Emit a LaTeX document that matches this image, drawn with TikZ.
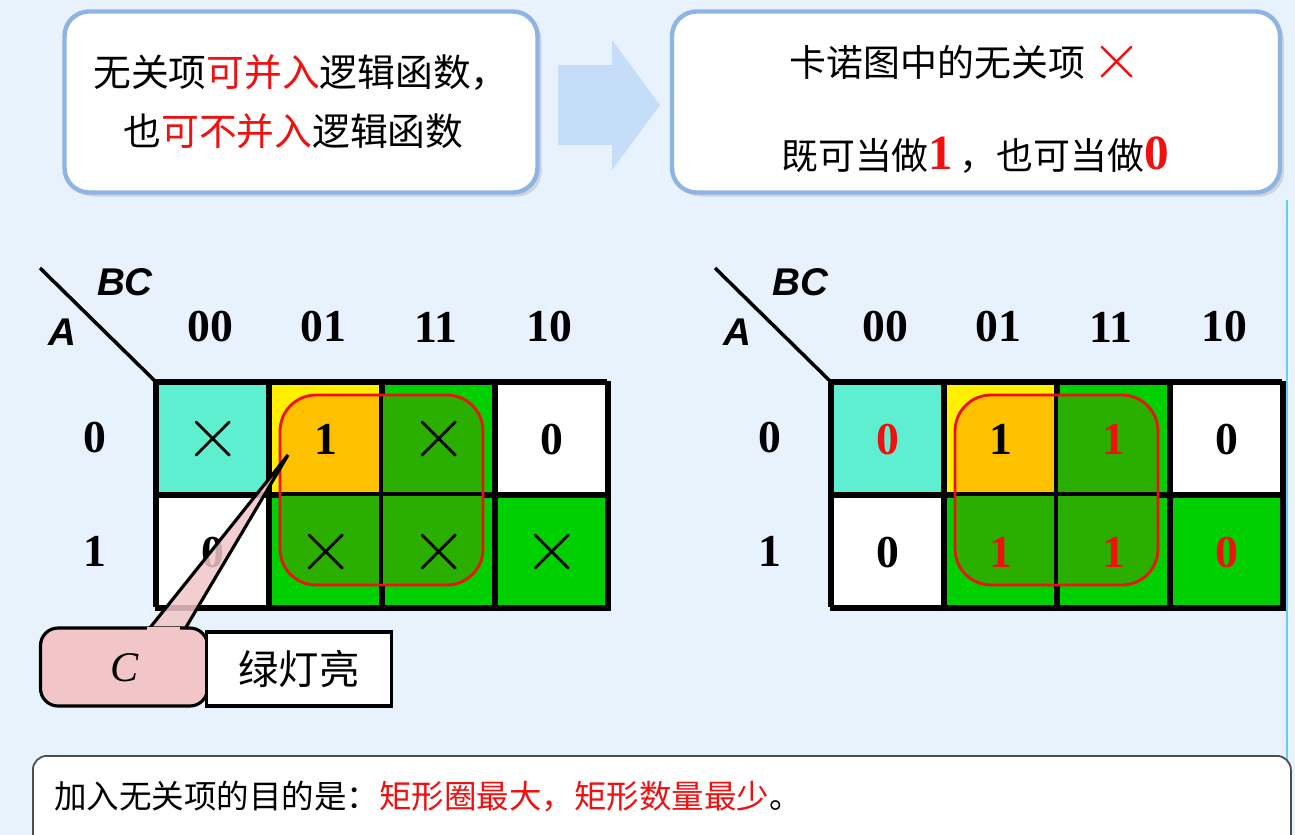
\documentclass[tikz,border=0pt]{standalone}
\usepackage{fontspec}
\setmainfont{Liberation Serif}
\setsansfont{Liberation Sans}
\newfontfamily\cjk{Noto Sans CJK SC}
\usetikzlibrary{positioning,shadows}
\definecolor{bgblue}{HTML}{E8F2FD}
\definecolor{boxline}{HTML}{8FB4E3}
\definecolor{arrowblue}{HTML}{C5DDF8}
\definecolor{turq}{HTML}{5EEFD0}
\definecolor{ylw}{HTML}{FFF000}
\definecolor{orng}{HTML}{FFC000}
\definecolor{grn}{HTML}{00D000}
\definecolor{dgrn}{HTML}{2AAE00}
\definecolor{pinkc}{HTML}{F2C6C8}
\definecolor{redt}{HTML}{F01010}
\newcommand{\bigx}[1]{\scalebox{#1}{$\times$}}
\tikzset{
  infobox/.style={draw=boxline, line width=2.5pt, rounded corners=14pt, fill=white,
    drop shadow={opacity=0.25}},
  cell/.style={draw=black, line width=2pt, minimum width=113*0.02cm, minimum height=113*0.02cm,
    inner sep=0pt, anchor=north west},
  digit/.style={font=\rmfamily\bfseries\fontsize{26}{26}\selectfont},
  lbl/.style={font=\sffamily\bfseries\itshape\fontsize{22}{22}\selectfont},
  ring/.style={draw=redt, line width=1.6pt, rounded corners=36*0.02cm},
}
\begin{document}
\begin{tikzpicture}[x=0.02cm, y=-0.02cm]
\fill[bgblue] (0,0) rectangle (1295,835);
\useasboundingbox (0,0) rectangle (1295,835);
\draw[cyan!60, line width=1.5pt] (1287,200) -- (1287,760);
% top boxes
\node[infobox, minimum width=473*0.02cm, minimum height=181*0.02cm] (note1) at (301,102) {};
\node[font=\cjk\fontsize{21.5}{21.5}\selectfont, align=left] (note1t) at (note1.center)
  {无关项\textcolor{redt}{可并入}逻辑函数，\\[12pt]\hspace*{0.8em}也\textcolor{redt}{可不并入}逻辑函数};
\fill[arrowblue] (558,65) -- (612,65) -- (612,40) -- (660,105) -- (612,170) -- (612,145) -- (558,145) -- cycle;
\node[infobox, minimum width=608*0.02cm, minimum height=181*0.02cm] (note2) at (976,102) {};
\node[font=\cjk\fontsize{21}{21}\selectfont] (note2a) at (966,62)
  {卡诺图中的无关项\,\textcolor{redt}{\raisebox{-1pt}{\bigx{1.8}}}};
\node[font=\cjk\fontsize{21}{21}\selectfont] (note2b) at (975,155)
  {既可当做\textcolor{redt}{\rmfamily\bfseries\fontsize{28}{28}\selectfont 1}\,，也可当做\textcolor{redt}{\rmfamily\bfseries\fontsize{28}{28}\selectfont 0}};
% maps
\foreach \ox/\m in {0/L,675/R}{
  \draw[line width=2pt] (40+\ox,268) -- (155+\ox,381);
  \node[lbl] (bc\m) at (125+\ox,282) {BC};
  \node[lbl] (a\m) at (62+\ox,332) {A};
  \foreach \c/\t [count=\i from 0] in {0/00,1/01,2/11,3/10}
    \node[digit] (h\m\i) at (210+113*\c+\ox,327) {\t};
  \node[digit] (r\m0) at (95+\ox,438) {0};
  \node[digit] (r\m1) at (95+\ox,551) {1};
  \foreach \r/\c/\col in {0/0/turq,0/1/ylw,0/2/grn,0/3/white,1/0/white,1/1/grn,1/2/grn,1/3/grn}
    \node[cell, fill=\col] (c\m\r\c) at (155+113*\c+\ox,381+113*\r) {};
  \begin{scope}
    \clip[rounded corners=36*0.02cm] (280+\ox,395) rectangle (483+\ox,585);
    \fill[orng] (268+\ox,381) rectangle (381+\ox,494);
    \fill[dgrn] (381+\ox,381) rectangle (494+\ox,494);
    \fill[dgrn] (268+\ox,494) rectangle (494+\ox,607);
  \end{scope}
  \foreach \x in {155,268,381,494,607} \draw[line width=2pt] (\x+\ox,381) -- (\x+\ox,607);
  \foreach \y in {381,494,607} \draw[line width=2pt] (155+\ox,\y) -- (607+\ox,\y);
  \draw[ring] (280+\ox,395) rectangle (483+\ox,585);
}
% left map entries
\foreach \r/\c in {0/0,0/2,1/1,1/2,1/3}
  \node (vL\r\c) at (cL\r\c.center) {\bigx{4.2}};
\node[digit] (vL01) at (cL01.center) {1};
\node[digit] (vL03) at (cL03.center) {0};
\node[digit] (vL10) at (cL10.center) {0};
% right map entries
\foreach \r/\c/\v/\col in {0/0/0/redt,0/1/1/black,0/2/1/redt,0/3/0/black,1/0/0/black,1/1/1/redt,1/2/1/redt,1/3/0/redt}
  \node[digit, text=\col] (vR\r\c) at (cR\r\c.center) {\v};
% callout
\coordinate (tip) at (288,455);
\filldraw[fill=pinkc, fill opacity=0.85, draw=black, line width=1.8pt] (145,634) -- (tip) -- (182,634);
\node[fill=pinkc, draw=black, line width=1.8pt, rounded corners=10pt, minimum width=167*0.02cm,
  minimum height=78*0.02cm] (callC) at (124,667) {};
\fill[pinkc] (147,627) rectangle (180,640);
\node[font=\itshape\fontsize{24}{24}\selectfont] (callCt) at (125,668) {C};
\node[draw=black, fill=white, line width=1.8pt, minimum width=185*0.02cm, minimum height=74*0.02cm,
  font=\cjk\fontsize{23}{23}\selectfont, inner sep=0pt] (green) at (299,669) {绿灯亮};
% bottom box
\node[draw=black!70, line width=1pt, fill=white, rounded corners=8pt, anchor=north west,
  minimum width=1258*0.02cm, minimum height=100*0.02cm] (goal) at (32,755) {};
\node[font=\cjk\fontsize{18.5}{18.5}\selectfont, anchor=west] (goalt) at (48,797)
  {加入无关项的目的是：\textcolor{redt}{矩形圈最大，矩形数量最少}。};
\end{tikzpicture}
\end{document}
